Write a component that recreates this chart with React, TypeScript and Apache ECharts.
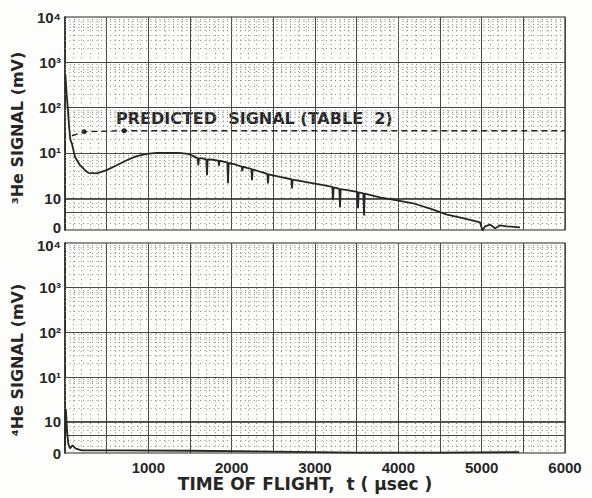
import React, { useEffect, useRef } from "react";
import * as echarts from "echarts";

// ---- data (x: time of flight in µsec, y: position on the chart's signal scale) ----
const he3Time = [5, 20, 35, 50, 65, 84, 120, 180, 240, 280, 380, 500, 620, 740, 860, 980, 1100, 1220, 1360, 1480, 1540, 1592, 1600, 1608, 1650, 1696, 1704, 1712, 1776, 1840, 1848, 1856, 1900, 1948, 1956, 1964, 2050, 2120, 2128, 2136, 2184, 2236, 2244, 2252, 2350, 2428, 2436, 2444, 2580, 2716, 2724, 2732, 2800, 2980, 3100, 3208, 3216, 3224, 3292, 3300, 3308, 3384, 3508, 3516, 3524, 3580, 3588, 3596, 3780, 4000, 4176, 4400, 4584, 4800, 4980, 5010, 5040, 5100, 5160, 5220, 5300, 5460];
const he3Signal = [2.72, 2.29, 1.96, 1.56, 1.29, 1.2, 0.91, 0.73, 0.62, 0.56, 0.55, 0.62, 0.73, 0.84, 0.93, 0.98, 1.0, 1.0, 1.0, 0.98, 0.93, 0.88, 0.73, 0.88, 0.88, 0.86, 0.51, 0.86, 0.85, 0.83, 0.72, 0.83, 0.81, 0.79, 0.33, 0.78, 0.74, 0.7, 0.6, 0.7, 0.67, 0.65, 0.4, 0.64, 0.58, 0.54, 0.33, 0.53, 0.47, 0.42, 0.22, 0.41, 0.39, 0.33, 0.29, 0.25, -0.04, 0.24, 0.21, -0.2, 0.2, 0.18, 0.14, -0.22, 0.13, 0.11, -0.38, 0.1, 0.02, -0.05, -0.11, -0.24, -0.36, -0.45, -0.53, -0.71, -0.62, -0.58, -0.66, -0.6, -0.62, -0.64];

const predictedTime = [84, 230, 710, 6000];
const predictedSignal = [1.38, 1.47, 1.49, 1.49];
const predictedDots = [false, true, true, false];

const he4Time = [0, 10, 25, 40, 60, 90, 130, 200, 600, 1500, 2500, 3500, 4500, 5450];
const he4Signal = [-0.55, 0.29, -0.2, -0.5, -0.6, -0.53, -0.6, -0.64, -0.64, -0.65, -0.67, -0.69, -0.69, -0.68];

const xTickValues = [1000, 2000, 3000, 4000, 5000, 6000];
const yTickLabels = ["0", "10", "10¹", "10²", "10³", "10⁴"];
// where each tick label sits on the signal scale (upper and lower panel)
const he3LabelValues = [-0.64, 0, 1, 2, 3, 4];
const he4LabelValues = [-0.7, 0, 1, 2, 3, 3.95];

// graph-paper rulings on the signal scale
const yMajorRulings = [-0.3, 0, 1, 2, 3];
const yBottomRulings = [-0.1, -0.2, -0.42, -0.56];
const decadeSteps = [2, 3, 4, 5, 6, 7, 8, 9];

const INK = "#262626";
const RULE = "#4a4a4a";
const DOT = "#8c8c8c";
const NUM_FONT = "Liberation Sans";
const NAME_FONT = "DejaVu Sans";

export default function App() {
  const ref = useRef<HTMLDivElement>(null);

  useEffect(() => {
    if (!ref.current) return;
    const chart = echarts.init(ref.current, undefined, { renderer: "svg" });

    const he3Data = he3Time.map((t, i) => [t, he3Signal[i]]);
    const he4Data = he4Time.map((t, i) => [t, he4Signal[i]]);
    const predData = predictedTime.map((t, i) => ({
      value: [t, predictedSignal[i]],
      symbol: predictedDots[i] ? "circle" : "none",
      symbolSize: 5,
    }));

    const dottedRulings: number[] = [];
    for (let d = 0; d < 4; d++) decadeSteps.forEach((k) => dottedRulings.push(d + Math.log10(k)));
    yBottomRulings.forEach((v) => dottedRulings.push(v));

    const rulingLines = [
      ...yMajorRulings.map((v) => ({ yAxis: v, lineStyle: { color: RULE, width: 1, type: "solid" } })),
      ...dottedRulings.map((v) => ({ yAxis: v, lineStyle: { color: DOT, width: 1, type: [1, 3.5] } })),
    ];

    const makeX = (gridIndex: number, showLabels: boolean) => ({
      type: "value",
      gridIndex,
      min: 0,
      max: 6000,
      interval: 500,
      axisLine: { show: true, lineStyle: { color: INK, width: 1.5 } },
      axisTick: { show: false },
      axisLabel: {
        show: showLabels,
        margin: 7,
        color: INK,
        fontFamily: NUM_FONT,
        fontWeight: "bold",
        fontSize: 15,
        formatter: (v: number) => (xTickValues.includes(v) ? String(v) : ""),
      },
      splitLine: { show: true, lineStyle: { color: RULE, width: 1 } },
      minorTick: { show: false, splitNumber: 5 },
      minorSplitLine: { show: true, lineStyle: { color: DOT, width: 1, type: [1, 3.5] } },
      name: showLabels ? "TIME OF FLIGHT,  t ( μsec )" : "",
      nameLocation: "middle",
      nameGap: 21,
      nameTextStyle: {
        color: INK,
        fontFamily: NAME_FONT,
        fontWeight: "bold",
        fontSize: 17,
        padding: [0, 20, 0, 0],
      },
    });

    const makeY = (gridIndex: number, name: string, pad: number, labelValues: number[]) => ({
      type: "value",
      gridIndex,
      min: -0.7,
      max: 4,
      axisLine: { show: true, lineStyle: { color: INK, width: 1.5 } },
      axisTick: { show: false, customValues: labelValues },
      axisLabel: {
        customValues: labelValues,
        margin: 4,
        color: INK,
        fontFamily: NUM_FONT,
        fontWeight: "bold",
        fontSize: 15,
        lineHeight: 12,
        formatter: (v: number) => {
          const idx = labelValues.findIndex((x) => Math.abs(x - v) < 1e-6);
          return idx >= 0 ? yTickLabels[idx] : "";
        },
      },
      splitLine: { show: false },
      name,
      nameLocation: "middle",
      nameGap: 34,
      nameTextStyle: {
        color: INK,
        fontFamily: NAME_FONT,
        fontWeight: "bold",
        fontSize: 16,
        padding: [0, pad, 0, 0],
      },
    });

    chart.setOption({
      animation: false,
      backgroundColor: "#fdfdfb",
      grid: [
        { left: 65, top: 17, width: 500, height: 213, show: true, borderColor: INK, borderWidth: 1.2, backgroundColor: "transparent" },
        { left: 65, top: 243, width: 500, height: 210, show: true, borderColor: INK, borderWidth: 1.2, backgroundColor: "transparent" },
      ],
      xAxis: [makeX(0, false), makeX(1, true)],
      yAxis: [
        makeY(0, "³He SIGNAL (mV)", 9, he3LabelValues),
        makeY(1, "⁴He SIGNAL (mV)", 24, he4LabelValues),
      ],
      graphic: [
        {
          type: "text",
          left: 116,
          top: 110,
          style: {
            text: "PREDICTED  SIGNAL (TABLE  2)",
            fill: INK,
            font: `bold 16px "${NAME_FONT}"`,
          },
        },
      ],
      series: [
        {
          type: "line",
          xAxisIndex: 0,
          yAxisIndex: 0,
          data: [[0, -0.7]],
          symbol: "none",
          lineStyle: { width: 0 },
          silent: true,
          z: 1,
          markLine: { silent: true, symbol: "none", label: { show: false }, data: rulingLines },
        },
        {
          type: "line",
          xAxisIndex: 1,
          yAxisIndex: 1,
          data: [[0, -0.7]],
          symbol: "none",
          lineStyle: { width: 0 },
          silent: true,
          z: 1,
          markLine: { silent: true, symbol: "none", label: { show: false }, data: rulingLines },
        },
        {
          name: "³He signal",
          type: "line",
          xAxisIndex: 0,
          yAxisIndex: 0,
          data: he3Data,
          showSymbol: false,
          symbol: "none",
          lineStyle: { color: INK, width: 1.8 },
          z: 5,
        },
        {
          name: "Predicted signal",
          type: "line",
          xAxisIndex: 0,
          yAxisIndex: 0,
          data: predData,
          itemStyle: { color: INK },
          lineStyle: { color: INK, width: 1.4, type: [6, 4] },
          z: 5,
        },
        {
          name: "⁴He signal",
          type: "line",
          xAxisIndex: 1,
          yAxisIndex: 1,
          data: he4Data,
          showSymbol: false,
          symbol: "none",
          lineStyle: { color: INK, width: 1.8 },
          z: 5,
        },
      ],
    });

    return () => chart.dispose();
  }, []);

  return (
    <div
      ref={ref}
      style={{ position: "fixed", left: 0, top: 0, width: 592, height: 498 }}
    />
  );
}
